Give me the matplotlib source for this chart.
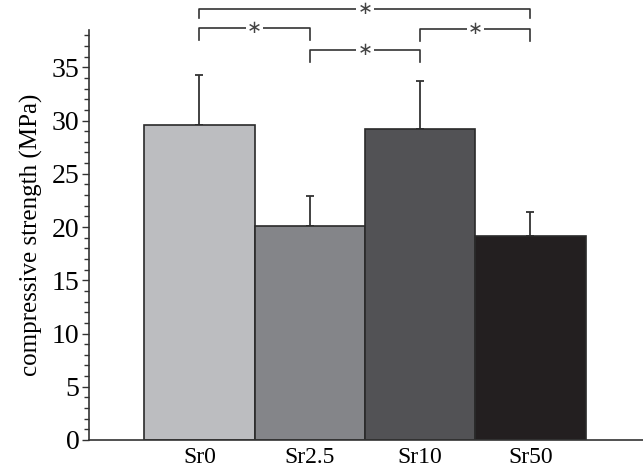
import numpy as np
import matplotlib.pyplot as plt
from matplotlib.ticker import MultipleLocator

plt.rcParams['font.family'] = ['Liberation Serif', 'DejaVu Serif']

# data
groups = ['Sr0', 'Sr2.5', 'Sr10', 'Sr50']
strength = [29.6, 20.1, 29.2, 19.2]
err_up = [4.7, 2.8, 4.5, 2.2]
bar_colors = ['#bcbdc0', '#848589', '#525255', '#231f20']
# significance brackets: (left group, right group, height, drop)
brackets = [(0, 3, 40.5, 0.9), (0, 1, 38.7, 1.1), (2, 3, 38.6, 1.1), (1, 2, 36.6, 1.1)]

fig = plt.figure(figsize=(6.43, 4.72), dpi=100)
ax = fig.add_axes([0.1384, 0.0678, 0.8616, 0.8686])

x = np.arange(len(groups))
ax.bar(x, strength, width=1.0, color=bar_colors, edgecolor='#2a2a2a', linewidth=1.2, zorder=2)
ax.errorbar(x, strength, yerr=[np.zeros(len(x)), err_up], fmt='none',
            ecolor='#333333', elinewidth=1.3, capsize=3, capthick=1.3, zorder=1)

for i, j, h, d in brackets:
    ax.plot([i, i, j, j], [h - d, h, h, h - d], color='#333333', lw=1.2, clip_on=False)
    ax.text((i + j) / 2, h, '\u2217', ha='center', va='center', fontsize=13,
            family='DejaVu Sans', color='#444444',
            bbox=dict(facecolor='white', edgecolor='none', pad=0.8), clip_on=False)

ax.set_xlim(-1.0, 4.02)
ax.set_ylim(0, 38.5)
ax.yaxis.set_major_locator(MultipleLocator(5))
ax.yaxis.set_minor_locator(MultipleLocator(1))
ax.tick_params(axis='y', which='major', direction='out', length=5, width=1.0, labelsize=20, pad=2, color='#333333')
ax.tick_params(axis='y', which='minor', direction='out', length=3.5, width=1.0, color='#333333')
ax.set_xticks(x)
ax.set_xticklabels(groups)
ax.tick_params(axis='x', length=0, labelsize=17, pad=5)
for s in ['top', 'right']:
    ax.spines[s].set_visible(False)
for s in ['left', 'bottom']:
    ax.spines[s].set_color('#333333')
    ax.spines[s].set_linewidth(1.2)
ax.set_ylabel('compressive strength (MPa)', fontsize=18, labelpad=6)

fig.savefig('out.png', dpi=100)
